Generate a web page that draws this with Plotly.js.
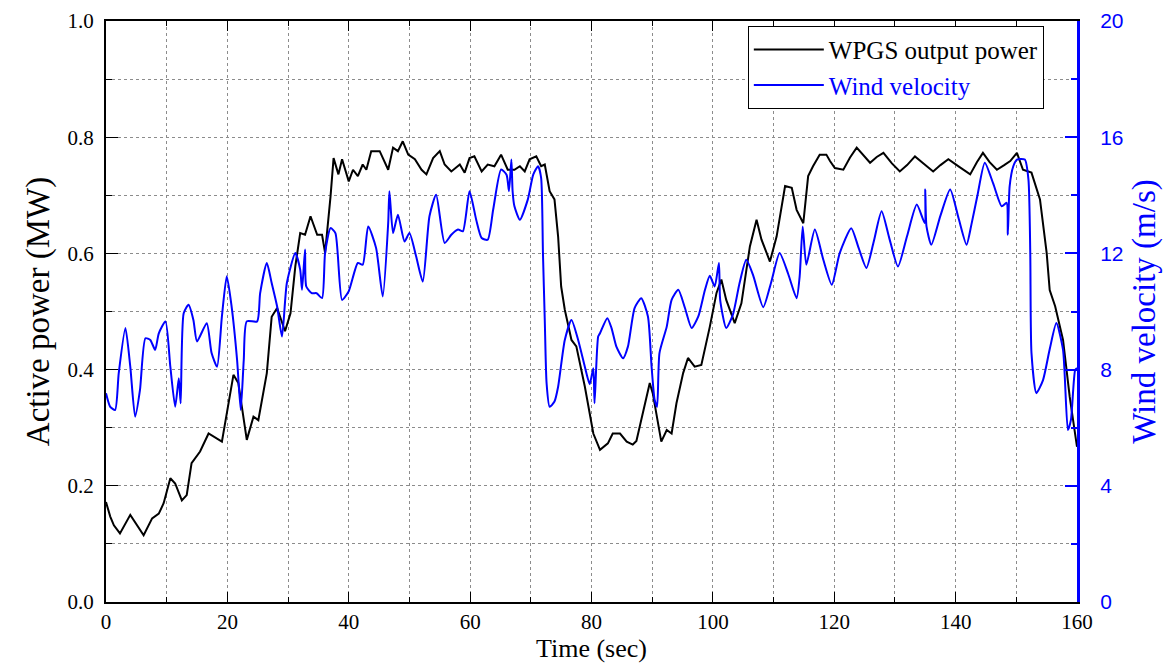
<!DOCTYPE html>
<html>
<head>
<meta charset="utf-8">
<script src="https://cdn.plot.ly/plotly-3.0.1.min.js"></script>
<style>
  html, body { margin:0; padding:0; background:#fff; }
  #chart { width:1176px; height:663px; }
</style>
</head>
<body>
<div id="chart"></div>
<script>
// WPGS output power (MW)
var powerTime = [0,0.7,1.3,2.3,4.0,5.1,6.2,7.6,8.7,9.5,10.6,11.4,12.5,13.3,14.1,15.5,16.9,19.1,19.9,21.0,21.8,23.2,24.3,25.1,26.5,27.3,28.2,29.5,30.4,31.2,32.0,32.8,33.7,34.8,35.6,36.1,37.0,37.5,38.3,38.9,40.0,40.7,41.5,42.3,42.9,43.7,45.1,46.5,47.3,48.1,48.9,49.8,50.9,52.0,52.8,53.9,55.0,55.8,56.9,58.3,59.1,59.9,60.7,61.9,62.9,64.0,65.1,66.2,67.3,68.2,69.0,69.8,70.9,71.7,72.3,73.1,73.9,74.5,75.0,75.6,76.7,77.5,78.9,80.3,81.4,82.7,83.5,84.7,85.8,86.8,87.4,88.5,89.6,90.1,91.0,91.5,92.4,93.2,94.0,95.1,95.9,97.0,98.1,99.5,100.6,101.4,102.2,103.6,104.7,106.1,107.2,108.0,109.4,110.5,111.9,113.0,113.8,114.9,115.7,116.5,117.6,118.7,119.3,120.1,121.5,122.6,123.7,124.8,125.9,127.0,128.1,129.5,130.8,132.0,133.3,134.8,136.3,137.5,138.8,140.6,142.4,143.5,144.5,145.6,146.8,148.0,149.0,150.1,151.1,152.5,153.9,155.0,155.5,156.4,157.7,158.8,159.6,160];
var powerMW = [0.172,0.147,0.132,0.118,0.150,0.132,0.115,0.144,0.152,0.170,0.213,0.204,0.175,0.184,0.239,0.259,0.290,0.276,0.325,0.391,0.377,0.279,0.319,0.313,0.394,0.491,0.506,0.466,0.497,0.578,0.635,0.632,0.664,0.632,0.632,0.601,0.698,0.764,0.736,0.762,0.724,0.744,0.733,0.753,0.744,0.776,0.776,0.744,0.782,0.776,0.793,0.770,0.762,0.744,0.736,0.764,0.776,0.753,0.741,0.753,0.739,0.764,0.767,0.741,0.753,0.750,0.770,0.744,0.744,0.750,0.741,0.762,0.767,0.750,0.753,0.707,0.693,0.629,0.543,0.503,0.451,0.440,0.371,0.290,0.262,0.273,0.290,0.290,0.276,0.271,0.277,0.325,0.377,0.359,0.308,0.276,0.296,0.290,0.342,0.394,0.420,0.405,0.408,0.474,0.532,0.555,0.520,0.480,0.514,0.612,0.658,0.624,0.586,0.629,0.716,0.713,0.675,0.652,0.733,0.750,0.770,0.770,0.759,0.747,0.744,0.765,0.782,0.768,0.756,0.766,0.773,0.755,0.741,0.752,0.767,0.754,0.741,0.752,0.762,0.749,0.736,0.757,0.773,0.757,0.744,0.752,0.759,0.773,0.744,0.739,0.693,0.601,0.537,0.509,0.451,0.353,0.290,0.267];

// Wind velocity (m/s)
var windTime = [0,0.7,1.5,2.1,3.2,4.0,4.8,5.6,6.5,7.3,8.1,8.7,9.8,10.6,11.4,12.0,12.3,12.8,13.6,14.4,15.0,16.6,17.4,18.3,19.1,19.9,20.7,21.6,22.2,22.7,23.2,24.9,25.4,26.5,27.3,28.2,29.0,29.8,31.2,32.0,32.3,32.8,33.0,33.9,34.7,35.6,36.1,37.0,37.8,38.9,40.0,41.5,42.3,43.2,44.5,45.6,46.5,46.7,47.3,48.1,49.2,50.0,51.1,52.2,53.3,54.4,55.8,56.9,58.0,58.8,59.9,61.0,61.9,62.9,63.8,65.1,66.0,66.4,66.8,67.0,67.3,68.2,69.5,70.4,71.2,71.7,72.0,72.3,72.6,73.1,73.9,74.5,75.6,76.7,77.8,78.9,79.7,80.3,80.5,81.1,81.4,82.6,83.3,84.1,85.2,86.0,87.1,88.2,89.3,89.9,90.4,90.8,91.2,92.4,93.2,94.3,95.4,96.5,97.6,98.7,99.5,100.3,101.0,101.2,102.2,103.3,104.4,105.5,106.6,108.3,109.6,111.0,112.4,113.8,114.3,114.8,115.4,116.8,118.2,119.6,120.9,122.8,124.0,125.3,126.5,127.8,129.1,130.5,132.0,133.6,134.9,135.0,135.2,136.0,137.5,139.1,140.5,141.8,142.6,143.6,144.8,146.2,147.6,148.4,148.6,148.9,149.5,150.1,151.4,152.0,152.3,152.5,153.3,154.4,155.5,156.6,157.7,158.5,159.0,159.7,160];
var windMS = [7.19,6.72,6.61,7.88,9.43,8.10,6.38,7.30,9.08,9.02,8.68,9.25,9.66,8.10,6.72,7.70,6.84,9.94,10.23,9.71,8.97,9.60,8.57,8.10,9.83,11.21,10.17,8.33,6.61,8.33,9.66,9.66,10.63,11.67,10.98,10.17,9.14,10.98,12.01,11.44,10.75,12.13,10.86,10.63,10.63,10.46,12.01,12.87,12.70,10.40,10.70,11.67,11.61,12.93,12.19,10.52,13.05,14.14,12.70,13.33,12.41,12.70,11.90,11.03,13.28,14.02,12.36,12.64,12.82,12.76,14.14,13.16,12.53,12.47,13.51,14.89,14.71,14.14,15.23,14.14,13.62,13.16,13.85,14.71,15.00,14.60,12.01,9.71,7.53,6.72,6.90,7.41,9.02,9.71,9.02,8.10,7.50,8.05,6.84,9.14,9.25,9.77,9.43,8.79,8.39,8.79,10.12,10.46,9.83,8.10,6.96,6.72,8.57,9.48,10.40,10.75,10.12,9.43,9.83,10.75,11.23,10.86,11.67,10.40,9.43,9.89,10.98,11.78,11.27,10.15,11.00,12.01,11.30,10.46,11.21,12.93,11.61,12.82,11.78,10.92,12.01,12.87,12.20,11.50,12.40,13.45,12.50,11.55,12.60,13.68,13.05,14.20,12.93,12.30,13.30,14.20,13.20,12.30,12.99,14.00,15.12,14.40,13.62,13.74,12.64,14.31,15.00,15.23,15.23,14.54,12.01,8.57,7.19,7.64,8.70,9.60,8.68,5.92,6.27,7.99,8.05];

var serif = "Liberation Serif, Times New Roman, serif";
var sans = "Liberation Sans, Arial, sans-serif";
var blue = "#0000ff";
var gridStyle = { showgrid:true, gridcolor:"#8c8c8c", griddash:"dot", gridwidth:1 };

var traces = [
  { x:powerTime, y:powerMW, type:"scatter", mode:"lines", name:"WPGS output power",
    line:{color:"#000", width:2} },
  { x:windTime, y:windMS, type:"scatter", mode:"lines", yaxis:"y2",
    name:"<span style='color:#0000ff'>Wind velocity</span>",
    line:{color:blue, width:2, shape:"spline", smoothing:0.6} }
];

var layout = {
  width:1176, height:663,
  margin:{l:106, r:99, t:21, b:61},
  paper_bgcolor:"#fff", plot_bgcolor:"#fff",
  showlegend:true,
  legend:{ x:0.661, y:0.992, xanchor:"left", yanchor:"top", bgcolor:"#fff",
    bordercolor:"#000", borderwidth:1, font:{family:serif, size:25, color:"#000"},
    itemwidth:70, tracegroupgap:0 },
  xaxis: Object.assign({
    range:[0,160], dtick:20, tick0:0, zeroline:false,
    ticks:"inside", ticklen:10, tickwidth:1, tickcolor:"#000",
    showline:true, linecolor:"#000", linewidth:2, mirror:"ticks",
    tickfont:{family:serif, size:21, color:"#000"},
    minor:{dtick:10, ticks:"inside", ticklen:5, tickcolor:"#000", showgrid:true, gridcolor:"#8c8c8c", griddash:"dot"},
    title:{text:"Time (sec)", font:{family:serif, size:26, color:"#000"}, standoff:3}
  }, gridStyle),
  yaxis: Object.assign({
    range:[0,1], dtick:0.2, tick0:0, tickformat:".1f", zeroline:false,
    ticks:"inside", ticklen:12, tickwidth:1, tickcolor:"#000",
    showline:true, linecolor:"#000", linewidth:2,
    tickfont:{family:serif, size:21, color:"#000"}, ticklabelstandoff:6,
    minor:{dtick:0.1, ticks:"inside", ticklen:6, tickcolor:"#000", showgrid:true, gridcolor:"#8c8c8c", griddash:"dot"},
    title:{text:"Active power (MW)", font:{family:serif, size:33, color:"#000"}, standoff:8}
  }, gridStyle),
  yaxis2:{
    overlaying:"y", side:"right", range:[0,20], dtick:4, tick0:0, zeroline:false, showgrid:false,
    ticks:"inside", ticklen:12, tickwidth:2, tickcolor:blue,
    showline:true, linecolor:blue, linewidth:3,
    tickfont:{family:sans, size:21, color:blue}, ticklabelstandoff:16,
    minor:{dtick:2, ticks:"inside", ticklen:6, tickcolor:blue},
    title:{text:"Wind velocity (m/s)", font:{family:serif, size:33, color:blue}, standoff:10}
  }
};

Plotly.newPlot("chart", traces, layout, {displayModeBar:false, staticPlot:true});
</script>
</body>
</html>
